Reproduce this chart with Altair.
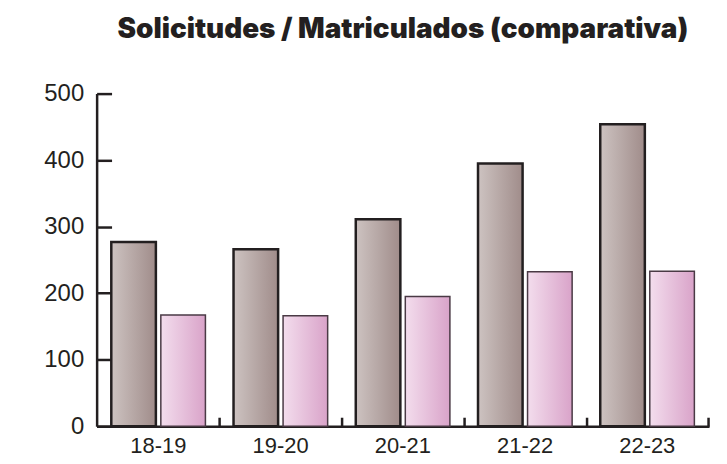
import altair as alt
import pandas as pd

cursos = ["18-19", "19-20", "20-21", "21-22", "22-23"]
solicitudes = [277, 266, 311, 395, 454]
matriculados = [167, 166, 195, 232, 233]
series = ["Solicitudes", "Matriculados"]
y_ticks = [0, 100, 200, 300, 400, 500]

rows = []
for c, s, m in zip(cursos, solicitudes, matriculados):
    rows.append({"curso": c, "serie": series[0], "valor": s})
    rows.append({"curso": c, "serie": series[1], "valor": m})
df = pd.DataFrame(rows)

W, H = 615, 334
FONT = "Liberation Sans"

grey_grad = alt.Gradient(
    gradient="linear", x1=0, x2=1, y1=0, y2=0,
    stops=[alt.GradientStop(color="#cdc3c1", offset=0),
           alt.GradientStop(color="#a08c8a", offset=1)])
pink_grad = alt.Gradient(
    gradient="linear", x1=0, x2=1, y1=0, y2=0,
    stops=[alt.GradientStop(color="#f3dded", offset=0),
           alt.GradientStop(color="#d9a3c9", offset=1)])

xscale = alt.Scale(domain=cursos, paddingInner=0.23, paddingOuter=0.12)
yscale = alt.Scale(domain=[0, 500], nice=False)
offscale = alt.Scale(domain=series, paddingInner=0.1)

base = alt.Chart(df)

grey = base.transform_filter(alt.datum.serie == series[0]).mark_bar(
    fill=grey_grad, stroke="#231f20", strokeWidth=2.5
).encode(
    x=alt.X("curso:N", scale=xscale, sort=cursos, title=None,
            axis=alt.Axis(orient="bottom", labelAngle=0, labelFont=FONT,
                          labelFontSize=22, labelColor="#231f20",
                          labelPadding=9, ticks=False, grid=False,
                          domainColor="#231f20", domainWidth=2.5)),
    y=alt.Y("valor:Q", scale=yscale, title=None,
            axis=alt.Axis(orient="left", values=y_ticks, labelFont=FONT,
                          labelFontSize=24, labelColor="#231f20",
                          labelPadding=13, ticks=False, grid=False,
                          domainColor="#231f20", domainWidth=2.5)),
    xOffset=alt.XOffset("serie:N", scale=offscale, sort=series),
)

pink = base.transform_filter(alt.datum.serie == series[1]).mark_bar(
    fill=pink_grad, stroke="#4a3a45", strokeWidth=1.5
).encode(
    x=alt.X("curso:N", scale=xscale, sort=cursos, title=None,
            axis=alt.Axis(orient="top", offset=-H, labels=False, domain=False,
                          grid=False, bandPosition=1, tickOffset=14,
                          tickSize=9, tickWidth=2.5, tickColor="#231f20")),
    y=alt.Y("valor:Q", scale=yscale, title=None,
            axis=alt.Axis(orient="right", offset=-W, values=y_ticks,
                          labels=False, domain=False, grid=False,
                          tickSize=15, tickWidth=2.5, tickColor="#231f20")),
    xOffset=alt.XOffset("serie:N", scale=offscale, sort=series),
)

chart = alt.layer(grey, pink).resolve_scale(
    x="independent", y="independent"
).properties(
    width=W, height=H,
    background="white",
    autosize=alt.AutoSizeParams(type="none"),
    padding={"left": 89, "top": 85, "right": 10, "bottom": 36},
    title=alt.TitleParams(
        "Solicitudes / Matriculados (comparativa)",
        font="Inter", fontSize=28, fontWeight=900, color="#231f20",
        anchor="middle", offset=38),
).configure_view(stroke="transparent", strokeWidth=0)

chart.save("out.html", embed_options={"renderer": "svg", "actions": False})
